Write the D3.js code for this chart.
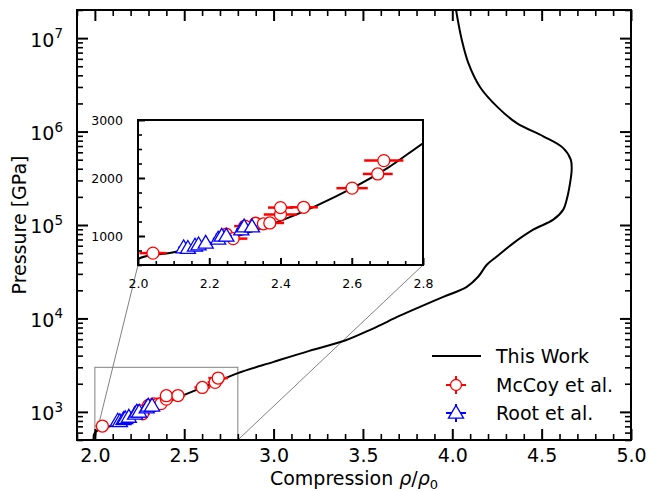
<!DOCTYPE html>
<html>
<head>
<meta charset="utf-8">
<script src="https://cdn.jsdelivr.net/npm/d3@7"></script>
<style>
  html, body { margin: 0; padding: 0; background: #fff; }
  svg { display: block; font-family: "DejaVu Sans", sans-serif; }
</style>
</head>
<body>
<svg id="chart" width="649" height="491"></svg>
<script>
// ---------------- data ----------------
// "This Work" curve (compression, pressure GPa)
const curveRho = [1.995, 2.0, 2.1, 2.2, 2.3, 2.4, 2.5, 2.6, 2.7, 2.8, 3.0, 3.2, 3.4, 3.55, 3.707, 3.819, 3.95, 4.081, 4.146, 4.193, 4.249, 4.342, 4.453, 4.565, 4.621, 4.640, 4.659, 4.668, 4.663, 4.621, 4.509, 4.361, 4.249, 4.155, 4.090, 4.053, 4.021, 4.012];
const curveP   = [460, 600, 720, 860, 1040, 1260, 1520, 1820, 2170, 2600, 3430, 4500, 5800, 7700, 10700, 13300, 17000, 21800, 28100, 37500, 46000, 64000, 89000, 114000, 146000, 186000, 281000, 390000, 500000, 665000, 890000, 1230000, 1860000, 3000000, 5400000, 9600000, 20000000, 26000000];

// McCoy et al. (red circles)
const mccoyRho    = [2.042, 2.248, 2.267, 2.300, 2.330, 2.352, 2.370, 2.400, 2.400, 2.465, 2.601, 2.673, 2.690];
const mccoyP      = [705, 1030, 955, 1170, 1220, 1210, 1225, 1370, 1490, 1495, 1825, 2070, 2300];
const mccoyRhoErr = [0.038, 0.03, 0.04, 0.03, 0.03, 0.03, 0.04, 0.047, 0.035, 0.04, 0.044, 0.042, 0.055];
const mccoyPErr   = [25, 35, 35, 40, 40, 40, 40, 50, 50, 50, 60, 70, 80];

// Root et al. (blue triangles)
const rootRho    = [2.128, 2.140, 2.160, 2.170, 2.190, 2.225, 2.235, 2.248, 2.290, 2.298, 2.320];
const rootP      = [800, 790, 830, 850, 880, 950, 1000, 1000, 1110, 1160, 1160];
const rootRhoErr = [0.015, 0.015, 0.015, 0.015, 0.015, 0.015, 0.015, 0.015, 0.015, 0.015, 0.015];
const rootPErr   = [20, 20, 20, 20, 20, 25, 25, 25, 30, 30, 30];

// tick values
const xMajor = [2.0, 2.5, 3.0, 3.5, 4.0, 4.5, 5.0];
const yMajor = [1e3, 1e4, 1e5, 1e6, 1e7];
const insetXMajor = [2.0, 2.2, 2.4, 2.6, 2.8];
const insetYMajor = [1000, 2000, 3000];

const legendLabels = ["This Work", "McCoy et al.", "Root et al."];

// ---------------- layout ----------------
const svg = d3.select("#chart");
const M = {left: 77, right: 631, top: 10, bottom: 440};
const I = {left: 138, right: 423, top: 120, bottom: 265};

const x = d3.scaleLinear().domain([1.9, 5.0]).range([M.left, M.right]);
const y = d3.scaleLog().domain([500, 2e7]).range([M.bottom, M.top]);
const xi = d3.scaleLinear().domain([2.0, 2.8]).range([I.left, I.right]);
const yi = d3.scaleLinear().domain([500, 3000]).range([I.bottom, I.top]);

const RED = "#ff0000", BLUE = "#0000ff";

const defs = svg.append("defs");
defs.append("clipPath").attr("id", "clipMain").append("rect")
  .attr("x", M.left).attr("y", M.top).attr("width", M.right - M.left).attr("height", M.bottom - M.top);
defs.append("clipPath").attr("id", "clipInset").append("rect")
  .attr("x", I.left).attr("y", I.top).attr("width", I.right - I.left).attr("height", I.bottom - I.top);

const curveData = curveRho.map((r, i) => [r, curveP[i]]);
const mccoy = mccoyRho.map((r, i) => ({r, p: mccoyP[i], re: mccoyRhoErr[i], pe: mccoyPErr[i]}));
const root = rootRho.map((r, i) => ({r, p: rootP[i], re: rootRhoErr[i], pe: rootPErr[i]}));

function triPath(cx, cy, s) {
  const h = s * 0.95;
  return `M${cx},${cy - h * 0.62}L${cx + s * 0.58},${cy + h * 0.42}L${cx - s * 0.58},${cy + h * 0.42}Z`;
}

function drawPoints(g, xs, ys, rad, tri) {
  const mg = g.append("g");
  mccoy.forEach(d => {
    mg.append("line").attr("x1", xs(d.r - d.re)).attr("x2", xs(d.r + d.re))
      .attr("y1", ys(d.p)).attr("y2", ys(d.p)).attr("stroke", RED).attr("stroke-width", 2.5);
    mg.append("line").attr("x1", xs(d.r)).attr("x2", xs(d.r))
      .attr("y1", ys(d.p - d.pe)).attr("y2", ys(d.p + d.pe)).attr("stroke", RED).attr("stroke-width", 2.5);
  });
  mccoy.forEach(d => {
    mg.append("circle").attr("cx", xs(d.r)).attr("cy", ys(d.p)).attr("r", rad)
      .attr("fill", "#fff").attr("stroke", RED).attr("stroke-width", 1.3);
  });
  root.forEach(d => {
    mg.append("line").attr("x1", xs(d.r - d.re)).attr("x2", xs(d.r + d.re))
      .attr("y1", ys(d.p)).attr("y2", ys(d.p)).attr("stroke", BLUE).attr("stroke-width", 2.5);
    mg.append("line").attr("x1", xs(d.r)).attr("x2", xs(d.r))
      .attr("y1", ys(d.p - d.pe)).attr("y2", ys(d.p + d.pe)).attr("stroke", BLUE).attr("stroke-width", 2.5);
  });
  root.forEach(d => {
    mg.append("path").attr("d", triPath(xs(d.r), ys(d.p), tri))
      .attr("fill", "#fff").attr("stroke", BLUE).attr("stroke-width", 1.3);
  });
}

// ---------------- main axes ----------------
const lineMain = d3.line().x(d => x(d[0])).y(d => y(d[1])).curve(d3.curveCatmullRom.alpha(0.5));

// inset marker rectangle and connectors
const gray = "#808080";
svg.append("rect").attr("x", x(2.0)).attr("y", y(3000))
  .attr("width", x(2.8) - x(2.0)).attr("height", y(500) - y(3000))
  .attr("fill", "none").attr("stroke", gray).attr("stroke-width", 1);
svg.append("line").attr("x1", x(2.0)).attr("y1", y(500)).attr("x2", I.left).attr("y2", I.bottom)
  .attr("stroke", gray).attr("stroke-width", 1);
svg.append("line").attr("x1", x(2.8)).attr("y1", y(500)).attr("x2", I.right).attr("y2", I.bottom)
  .attr("stroke", gray).attr("stroke-width", 1);

const mainPlot = svg.append("g").attr("clip-path", "url(#clipMain)");
mainPlot.append("path").datum(curveData).attr("d", lineMain)
  .attr("fill", "none").attr("stroke", "#000").attr("stroke-width", 2);
drawPoints(mainPlot, x, y, 6, 13);

// main ticks
const xMinor = d3.range(19, 51).map(v => v / 10).filter(v => !xMajor.some(m => Math.abs(m - v) < 1e-9));
const yMinor = [];
for (let e = 2; e <= 7; e++) for (let k = 2; k <= 9; k++) {
  const v = k * Math.pow(10, e);
  if (v >= 500 && v <= 2e7) yMinor.push(v);
}
const MAJ = 11, MIN = 6;

function styleAxis(g, w) {
  g.select(".domain").remove();
  g.selectAll(".tick line").attr("stroke", "#000").attr("stroke-width", w);
}

// bottom
svg.append("g").attr("transform", `translate(0,${M.bottom})`)
  .call(d3.axisBottom(x).tickValues(xMinor).tickSize(-MIN).tickFormat(""))
  .call(g => styleAxis(g, 1.6));
const bx = svg.append("g").attr("transform", `translate(0,${M.bottom})`)
  .call(d3.axisBottom(x).tickValues(xMajor).tickSize(-MAJ).tickPadding(9).tickFormat(d3.format(".1f")))
  .call(g => styleAxis(g, 2));
bx.selectAll(".tick text").attr("font-size", 19).attr("font-family", "DejaVu Sans").attr("fill", "#000");
// top
svg.append("g").attr("transform", `translate(0,${M.top})`)
  .call(d3.axisTop(x).tickValues(xMinor).tickSize(-MIN).tickFormat(""))
  .call(g => styleAxis(g, 1.6));
svg.append("g").attr("transform", `translate(0,${M.top})`)
  .call(d3.axisTop(x).tickValues(xMajor).tickSize(-MAJ).tickFormat(""))
  .call(g => styleAxis(g, 2));
// left
svg.append("g").attr("transform", `translate(${M.left},0)`)
  .call(d3.axisLeft(y).tickValues(yMinor).tickSize(-MIN).tickFormat(""))
  .call(g => styleAxis(g, 1.6));
const ly = svg.append("g").attr("transform", `translate(${M.left},0)`)
  .call(d3.axisLeft(y).tickValues(yMajor).tickSize(-MAJ).tickPadding(7).tickFormat(""))
  .call(g => styleAxis(g, 2));
ly.selectAll(".tick text").each(function(d) {
  const t = d3.select(this).attr("font-size", 19).attr("font-family", "DejaVu Sans")
    .attr("fill", "#000").attr("dy", "0.42em").attr("x", -14).text("10");
  t.append("tspan").attr("font-size", 13.5).attr("dy", -8.5).text(Math.round(Math.log10(d)));
});
// right
svg.append("g").attr("transform", `translate(${M.right},0)`)
  .call(d3.axisRight(y).tickValues(yMinor).tickSize(-MIN).tickFormat(""))
  .call(g => styleAxis(g, 1.6));
svg.append("g").attr("transform", `translate(${M.right},0)`)
  .call(d3.axisRight(y).tickValues(yMajor).tickSize(-MAJ).tickFormat(""))
  .call(g => styleAxis(g, 2));

// main frame
svg.append("rect").attr("x", M.left).attr("y", M.top).attr("width", M.right - M.left).attr("height", M.bottom - M.top)
  .attr("fill", "none").attr("stroke", "#000").attr("stroke-width", 2);

// axis labels
const xl = svg.append("text").attr("x", (M.left + M.right) / 2).attr("y", 485)
  .attr("text-anchor", "middle").attr("font-size", 19).attr("fill", "#000");
xl.append("tspan").text("Compression ");
xl.append("tspan").attr("font-style", "italic").text("ρ");
xl.append("tspan").text("/");
xl.append("tspan").attr("font-style", "italic").text("ρ");
xl.append("tspan").attr("font-size", 13).attr("dy", 4).text("0");

svg.append("text").attr("transform", `translate(26,${(M.top + M.bottom) / 2}) rotate(-90)`)
  .attr("text-anchor", "middle").attr("font-size", 19).attr("fill", "#000").text("Pressure [GPa]");

// ---------------- legend ----------------
const lg = svg.append("g");
const legY = [356, 385, 413];
lg.append("line").attr("x1", 432).attr("x2", 481).attr("y1", legY[0]).attr("y2", legY[0])
  .attr("stroke", "#000").attr("stroke-width", 2);
// McCoy marker
lg.append("line").attr("x1", 446).attr("x2", 466).attr("y1", legY[1]).attr("y2", legY[1]).attr("stroke", RED).attr("stroke-width", 2);
lg.append("line").attr("x1", 456).attr("x2", 456).attr("y1", legY[1] - 9).attr("y2", legY[1] + 9).attr("stroke", RED).attr("stroke-width", 2);
lg.append("circle").attr("cx", 456).attr("cy", legY[1]).attr("r", 5.5).attr("fill", "#fff").attr("stroke", RED).attr("stroke-width", 1.3);
// Root marker
lg.append("line").attr("x1", 446).attr("x2", 466).attr("y1", legY[2]).attr("y2", legY[2]).attr("stroke", BLUE).attr("stroke-width", 2);
lg.append("line").attr("x1", 456).attr("x2", 456).attr("y1", legY[2] - 9).attr("y2", legY[2] + 9).attr("stroke", BLUE).attr("stroke-width", 2);
lg.append("path").attr("d", triPath(456, legY[2], 13)).attr("fill", "#fff").attr("stroke", BLUE).attr("stroke-width", 1.3);
legendLabels.forEach((t, i) => {
  lg.append("text").attr("x", 496).attr("y", legY[i]).attr("dy", "0.35em")
    .attr("font-size", 19).attr("fill", "#000").text(t);
});

// ---------------- inset ----------------
svg.append("rect").attr("x", I.left).attr("y", I.top).attr("width", I.right - I.left).attr("height", I.bottom - I.top)
  .attr("fill", "#fff");
const lineInset = d3.line().x(d => xi(d[0])).y(d => yi(d[1])).curve(d3.curveCatmullRom.alpha(0.5));
const insetPlot = svg.append("g").attr("clip-path", "url(#clipInset)");
insetPlot.append("path").datum(curveData.filter(d => d[0] <= 3.0)).attr("d", lineInset)
  .attr("fill", "none").attr("stroke", "#000").attr("stroke-width", 2);
drawPoints(insetPlot, xi, yi, 6, 13);

const insetXMinor = d3.range(40, 57).map(v => v / 20).filter(v => !insetXMajor.some(m => Math.abs(m - v) < 1e-9));
const insetYMinor = d3.range(500, 3001, 250).filter(v => !insetYMajor.includes(v));

svg.append("g").attr("transform", `translate(0,${I.bottom})`)
  .call(d3.axisBottom(xi).tickValues(insetXMinor).tickSize(-4).tickFormat(""))
  .call(g => styleAxis(g, 1.6));
const ibx = svg.append("g").attr("transform", `translate(0,${I.bottom})`)
  .call(d3.axisBottom(xi).tickValues(insetXMajor).tickSize(-7).tickPadding(14).tickFormat(d3.format(".1f")))
  .call(g => styleAxis(g, 2));
ibx.selectAll(".tick text").attr("font-size", 12.5).attr("font-family", "DejaVu Sans").attr("fill", "#000");
svg.append("g").attr("transform", `translate(${I.left},0)`)
  .call(d3.axisLeft(yi).tickValues(insetYMinor).tickSize(-4).tickFormat(""))
  .call(g => styleAxis(g, 1.6));
const iby = svg.append("g").attr("transform", `translate(${I.left},0)`)
  .call(d3.axisLeft(yi).tickValues(insetYMajor).tickSize(-7).tickPadding(15).tickFormat(d3.format("d")))
  .call(g => styleAxis(g, 2));
iby.selectAll(".tick text").attr("font-size", 12.5).attr("font-family", "DejaVu Sans").attr("fill", "#000");

svg.append("rect").attr("x", I.left).attr("y", I.top).attr("width", I.right - I.left).attr("height", I.bottom - I.top)
  .attr("fill", "none").attr("stroke", "#000").attr("stroke-width", 2);
</script>
</body>
</html>
